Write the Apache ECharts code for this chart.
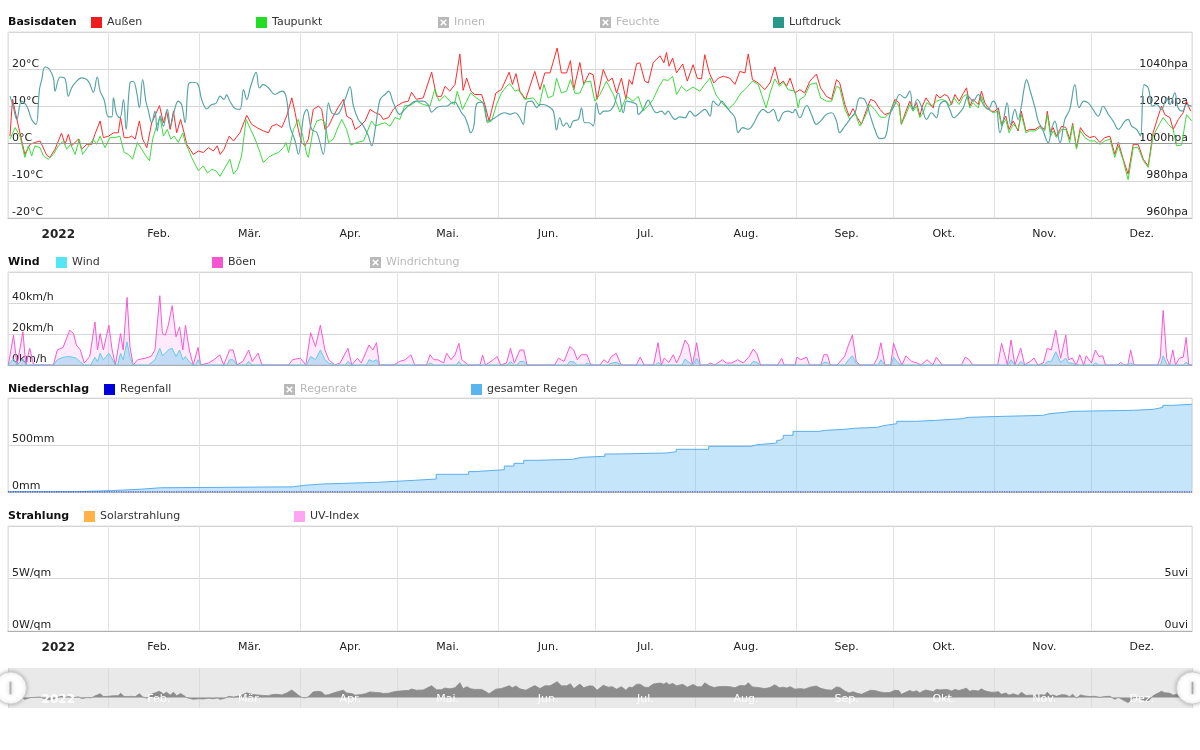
<!DOCTYPE html>
<html><head><meta charset="utf-8">
<script src="https://cdn.jsdelivr.net/npm/echarts@6/dist/echarts.min.js"></script>
<style>html,body{margin:0;padding:0;background:#fff}#c{width:1200px;height:750px}</style>
</head><body><div id="c"></div>
<script>
// ---------- data (day of year 2022, value) ----------
const monthLabels = ['2022','Feb.','Mär.','Apr.','Mai.','Jun.','Jul.','Aug.','Sep.','Okt.','Nov.','Dez.'];

const outsideTemp = [[0.6,2.0],[1.4,11.9],[3.2,4.7],[5.2,-2.9],[6.8,-0.2],[8.3,0.3],[9.9,0.7],[11.9,-3.1],[12.9,-3.7],[14.5,-1.5],[16.5,2.8],[17.6,-0.2],[18.6,2.5],[19.6,-0.6],[21.7,1.2],[22.7,-1.5],[24.3,-0.2],[25.8,-0.2],[26.8,2.5],[28.4,6.1],[29.4,1.6],[31,2.0],[32.5,2.9],[34,2.9],[34.7,7.0],[35.8,1.6],[37.1,1.6],[38.1,2.0],[39.2,1.2],[40.5,6.1],[41.5,1.2],[42.8,-1.1],[44.3,5.6],[46.7,10.2],[47.9,5.6],[48.9,8.7],[50,3.8],[51,8.7],[52,2.9],[53.2,6.5],[54.3,2.9],[55.1,-0.2],[56.1,-1.5],[57.1,-2.9],[58.7,-2.0],[60.2,-2.4],[61.8,-1.1],[63.3,-2.0],[64.5,-0.6],[65.4,-2.9],[66.6,-1.5],[68.2,2.0],[69.5,0.7],[71.5,2.9],[73.6,7.6],[75.1,5.2],[76.7,4.3],[78.7,3.4],[80.3,2.9],[81.3,4.7],[82.8,5.2],[84.4,4.3],[85.9,7.4],[87.5,12.3],[88.5,8.3],[89.5,3.8],[90.5,0.3],[91.6,-0.6],[92.6,1.2],[94.1,9.2],[95.7,10.1],[96.7,9.2],[97.7,3.8],[98.8,4.7],[100.3,7.4],[101.9,9.9],[103.4,11.9],[104.4,7.4],[106,6.5],[107,3.8],[108.5,4.7],[110.1,6.1],[111.6,9.2],[113.2,8.3],[114.7,7.8],[115.7,6.5],[117.3,7.0],[118.8,9.2],[119.8,10.1],
[121.8,11.1],[123.4,11.4],[124.4,13.8],[125.9,11.9],[128,12.3],[130.6,19.2],[132.1,12.7],[133.6,12.7],[134.7,15.4],[136.2,14.1],[137.8,15.9],[139.3,24.1],[140.3,14.3],[141.4,17.6],[142.7,14.1],[143.9,13.2],[146,13.2],[147,10.5],[148.3,6.1],[150.4,13.6],[152.1,14.5],[154.5,19.2],[155.5,15.9],[156.6,18.8],[157.8,14.1],[159.6,11.9],[162.4,19.4],[164,14.5],[165.5,19.0],[167.1,19.0],[169.3,25.7],[170.6,19.0],[172.2,19.0],[173.4,22.3],[174.4,14.5],[176.3,21.8],[177.5,15.9],[179.2,19.0],[180.4,18.5],[181.6,11.9],[183.5,19.9],[185,16.8],[186.3,17.6],[187.6,13.6],[189.1,17.6],[190.5,11.9],[191.5,17.2],[192.4,15.9],[193.8,21.5],[194.8,21.7],[196.3,16.8],[197.4,16.3],[198.9,21.8],[201,23.6],[202.2,21.7],[203,24.5],[203.8,20.8],[204.9,23.0],[206.1,19.0],[208,21.4],[209.4,16.8],[211.2,21.2],[212.5,17.6],[213.8,17.4],[214.8,23.9],[216.2,19.0],[217.6,16.3],[219,17.6],[220.5,18.1],[222.5,17.6],[224.1,15.9],[225.6,19.4],[227.2,19.0],[228.2,24.1],[229.5,17.2],[231.3,16.3],[233.3,14.5],[234.9,16.3],[236.4,20.6],[237.8,15.9],[239,16.8],[240,15.4],[241.1,17.6],[242.6,13.6],
[244.1,14.5],[245.6,13.6],[247.2,16.8],[249.2,18.7],[250.5,15.0],[252.3,12.7],[253.9,11.9],[255.4,17.2],[256.4,16.3],[258,10.5],[259.3,7.4],[260.5,9.4],[261.8,7.0],[263.1,5.2],[264.7,9.2],[265.9,11.9],[267.2,11.4],[268.8,9.2],[270.3,7.8],[271.9,8.3],[273.4,11.9],[274.7,11.0],[275.4,5.2],[276.8,8.7],[278,11.4],[279,9.2],[280.1,11.0],[281.1,7.4],[281.9,10.1],[283,12.3],[284,11.0],[285.2,9.6],[286.2,13.2],[287.3,12.3],[288.8,13.2],[289.8,12.7],[290.9,10.5],[291.9,13.2],[293.2,11.4],[294.5,13.5],[295.5,15.0],[296.5,10.1],[297.5,11.9],[299.1,10.5],[300.1,14.1],[301.1,11.0],[302.2,9.6],[303.2,8.7],[304.2,8.7],[305.3,9.6],[306.3,5.2],[307.6,7.4],[308.6,3.8],[309.9,6.1],[311.4,3.4],[312.4,8.7],[313.8,3.4],[315,3.8],[316.6,3.8],[318.1,4.7],[319.6,3.8],[320.4,8.7],[321.4,2.9],[322.2,4.3],[323.2,2.0],[324.8,4.7],[326.1,4.3],[327.3,1.2],[328.2,5.4],[329.4,-1.1],[330.6,4.3],[332,2.5],[333.5,1.6],[335,2.0],[336.6,0.3],[338.1,1.6],[339.7,2.0],[341.2,-2.9],[342.3,0.3],[343.8,-4.2],[345.3,-8.2],[346.9,-0.2],[348.4,-0.2],[350,-4.2],[351.5,-6.0],[353,2.9],[354.6,7.4],[355.6,10.1],[356.6,7.8],[358.2,7.0],[359.2,3.8],[360.8,6.5],[362.3,8.3],[363.3,11.4],[364.6,8.7]];

const dewPoint = [[0.6,1.2],[2.2,4.3],[3.7,2.0],[5.2,-3.7],[6.3,-0.6],[7.3,-3.3],[8.3,-0.6],[9.9,-1.1],[10.9,-3.3],[12.4,-4.2],[14,-2.9],[15.5,-0.6],[17.1,0.7],[18.1,-1.5],[19.3,-0.2],[20.7,-2.9],[22,1.2],[23,-2.9],[24.5,-1.1],[26.3,1.2],[27.3,-0.2],[28.4,2.0],[29.9,-1.1],[31.4,1.6],[33,1.6],[34.5,2.0],[35.8,-2.4],[37.1,-2.9],[38.4,-4.2],[39.9,0.3],[41.2,-1.5],[42.8,-3.7],[43.6,-4.6],[44.6,1.2],[45.8,4.7],[46.9,7.0],[47.9,2.0],[49.1,3.8],[50.2,1.2],[51.2,2.0],[52.5,0.3],[53.9,2.9],[54.6,0.3],[55.6,-1.5],[56.6,-3.7],[58.7,-7.3],[60.2,-6.0],[61.5,-7.9],[62.8,-6.9],[64.1,-7.3],[65.4,-8.8],[66.6,-6.9],[68.4,-4.2],[69.5,-8.2],[70.7,-6.9],[72,-3.3],[73.4,6.5],[74.8,3.8],[76.2,1.2],[77.7,-2.4],[78.7,-5.1],[80.3,-3.7],[81.8,-2.9],[83.4,-2.4],[84.9,-1.1],[85.7,0.3],[86.5,-2.4],[88,3.8],[89.5,6.5],[90.9,2.0],[92.1,-2.9],[92.6,-3.7],[94.1,3.8],[95.2,6.1],[96.7,6.5],[97.7,5.6],[98.8,0.3],[100.3,1.2],[101.9,4.7],[102.9,6.5],[104.4,3.8],[105.7,-0.4],[107.5,0.3],[109.6,0.7],[110.6,2.9],[112.1,6.1],[113.2,4.7],[114.7,5.2],[116.2,5.6],[117.8,4.7],[119.3,7.0],
[120.8,6.5],[122.3,10.2],[123.9,10.2],[125.9,11.4],[128,10.5],[130.1,10.1],[131.6,14.7],[132.9,11.4],[134.7,12.9],[136.2,11.4],[137.6,10.5],[138.5,14.1],[140.1,9.2],[141.4,11.4],[142.6,13.6],[144.4,12.3],[146.5,11.0],[147.7,5.6],[149.1,6.1],[150.6,10.5],[152.1,13.6],[153.7,15.4],[154.7,16.1],[156.3,14.1],[157.3,14.5],[159.3,11.9],[161.9,12.3],[163.8,10.1],[165.2,15.9],[166.5,12.3],[168.1,12.9],[169.1,17.6],[170.6,13.6],[172.2,14.1],[173.4,17.2],[174.8,13.5],[176.3,13.6],[177.8,16.5],[179.6,16.8],[180.9,11.4],[182.5,13.2],[184.5,16.8],[186.6,13.2],[188.6,8.5],[190.7,12.7],[192.7,11.4],[194.3,12.7],[195.8,8.7],[197.4,10.2],[198.9,11.9],[200.5,15.0],[202,17.2],[203.5,17.0],[204.9,18.1],[206.1,13.2],[207.6,15.4],[209.2,14.1],[211.2,15.2],[213.3,14.1],[214.8,15.9],[216.4,17.6],[218.2,13.2],[220,11.0],[222,9.2],[224.1,11.0],[225.6,13.2],[227.7,15.0],[229.5,16.8],[231.3,15.9],[232.3,13.2],[233.7,9.6],[235.1,14.1],[236.4,17.4],[237.8,15.4],[239,16.5],[240.5,14.5],[242.6,14.1],[243.6,9.6],
[244.1,11.9],[245.6,12.7],[247.2,15.9],[249.2,16.3],[250.5,12.3],[252.3,11.4],[253.9,11.4],[255.4,15.4],[256.4,15.0],[258,9.2],[259.5,6.5],[261.1,8.3],[262.6,4.7],[264.1,7.0],[265.7,10.5],[267.2,9.2],[268.8,7.2],[270.3,7.0],[271.9,8.3],[273.4,11.4],[274.7,10.1],[275.4,5.2],[276.8,7.8],[278,10.5],[279,8.7],[280.1,10.1],[281.1,7.0],[282.1,8.3],[283.2,11.0],[284.7,10.1],[286.2,11.4],[287.8,11.9],[289.3,11.4],[290.3,10.1],[291.6,12.3],[293.2,10.5],[294.5,12.7],[295.5,13.2],[296.5,9.6],[297.5,11.0],[299.1,9.6],[300.1,12.7],[301.1,10.1],[302.2,9.2],[303.7,8.3],[305.3,8.7],[306.3,4.7],[307.6,6.5],[308.6,2.9],[309.9,5.2],[311.4,3.8],[312.4,7.8],[313.8,2.9],[315,3.4],[316.6,3.4],[318.1,4.3],[319.6,3.4],[320.4,7.8],[321.4,2.0],[322.2,3.4],[323.2,1.6],[324.8,3.8],[326.1,3.8],[327.3,0.3],[328.2,4.9],[329.4,-1.5],[330.6,3.4],[332,1.6],[333.5,0.7],[335,0.7],[336.6,-0.2],[338.1,0.7],[339.7,1.2],[341.2,-3.7],[342.3,-0.6],[343.8,-4.6],[345.3,-9.7],[346.9,-1.1],[348.4,-1.1],[350,-4.6],[351.5,-6.4],[353,2.0],[354.6,4.7],[356.1,7.0],[357.7,5.2],[359.2,3.8],[360.2,-0.6],[361.8,-0.4],[363.3,7.8],[364.9,6.1]];

const pressure = [[0.6,1025.5],[1.6,1020.1],[2.7,1013.0],[4.2,1022.8],[5.8,1020.1],[7.3,1013.0],[8.6,1010.3],[9.7,1029.1],[10.4,1034.4],[11.4,1041.2],[12.7,1040.1],[14,1035.3],[14.5,1028.2],[15.5,1034.4],[16.2,1035.8],[17.6,1034.8],[18.6,1025.5],[19.6,1029.9],[20.7,1032.6],[22.7,1035.3],[24.8,1033.5],[26.3,1027.6],[27.5,1035.8],[28.4,1028.2],[29.6,1023.7],[31,1014.4],[32,1014.4],[32.5,1024.6],[33.5,1015.7],[34.5,1013.9],[35.6,1023.7],[36.4,1007.7],[37.6,1032.6],[38.6,1033.5],[39.7,1027.3],[40.5,1019.3],[41.5,1034.4],[42.5,1022.8],[43.3,1017.5],[44.3,1011.2],[45.3,1017.5],[46,1006.8],[46.9,1014.8],[47.9,1009.4],[49.1,1018.4],[50.1,1009.4],[51,1015.7],[52.5,1022.8],[53.5,1021.0],[54.6,1011.2],[55.6,1031.7],[56.6,1033.0],[58.4,1032.3],[59.7,1023.7],[61.3,1018.7],[62.8,1021.0],[64.1,1021.6],[65.4,1025.5],[66.6,1023.7],[67.4,1026.2],[68.4,1022.8],[70,1018.9],[71.5,1018.4],[72.6,1029.1],[73.6,1023.7],[74.8,1030.8],[76.5,1038.3],[77.5,1029.9],[78.7,1031.7],[80.3,1029.9],[82.3,1026.4],[84.4,1028.2],[85.7,1025.5],[86.9,1009.4],[88.5,1001.4],[89.5,994.3],[91.1,1014.8],[92.1,1018.4],[93.6,1007.7],[95.2,1005.9],[97.2,994.3],[98.8,1021.9],[99.8,1016.6],[101.3,1015.7],[103.9,1023.7],[105.4,1030.5],[106.5,1020.1],[108,1013.0],[109.6,1009.4],[111.1,1004.1],[112.1,998.8],[113.2,1007.7],[114.7,1023.7],[116.2,1026.4],[117.3,1028.2],[118.8,1021.9],
[120.8,1015.7],[122.3,1018.4],[123.9,1021.0],[125.9,1022.8],[128,1022.8],[129.5,1021.0],[130.6,1016.9],[132.1,1019.3],[133.6,1020.1],[135.2,1020.1],[136.7,1021.9],[137.8,1022.3],[138.8,1019.8],[139.8,1016.6],[140.8,1014.4],[141.9,1009.4],[142.6,1005.9],[143.6,1009.4],[144.4,1021.0],[146,1022.3],[147,1019.3],[148,1012.1],[150.1,1013.9],[151.6,1015.7],[153.2,1016.6],[154.7,1015.7],[156.3,1016.6],[157.8,1013.9],[158.8,1010.3],[159.9,1021.9],[161.4,1022.8],[163,1019.3],[164,1021.0],[165,1021.0],[166.5,1020.1],[168.1,1017.5],[169.1,1007.3],[170.1,1013.9],[171.2,1009.4],[172.2,1011.2],[173.2,1008.6],[174.2,1012.1],[175.8,1013.0],[176.8,1019.3],[177.8,1011.2],[179.2,1011.2],[180.4,1009.4],[181.4,1021.9],[182.5,1015.7],[183.7,1017.5],[185,1017.5],[186.6,1019.8],[188.1,1027.3],[189.7,1016.6],[190.7,1022.8],[192.2,1022.3],[193.8,1021.0],[194.3,1015.7],[195.8,1018.4],[197.4,1023.4],[198.4,1020.1],[199.9,1016.6],[201.5,1017.5],[202.5,1015.7],[203.5,1017.5],[204.6,1014.8],[205.6,1013.0],[207.1,1014.4],[208.7,1013.9],[210.2,1017.5],[211.8,1014.8],[213.3,1016.6],[214.8,1018.4],[216.4,1014.8],[217.4,1022.8],[219,1020.5],[220,1022.8],[221,1021.0],[222.5,1017.5],[224.1,1013.9],[225.1,1005.9],[226.5,1008.6],[228.2,1007.7],[229.7,1010.3],[231.3,1015.7],[232.8,1018.4],[234.4,1016.6],[235.9,1018.4],[237.5,1012.1],[239,1016.6],[240.5,1017.5],[241.9,1016.6],[242.6,1018.4],
[244.1,1013.9],[246.2,1020.5],[247.7,1015.7],[249.2,1010.3],[250.5,1012.1],[252.3,1015.7],[253.9,1016.6],[255.4,1012.1],[256.4,1005.9],[258,1009.4],[259.5,1013.0],[261.1,1016.6],[262.6,1024.6],[264.1,1023.7],[265.7,1015.7],[267.2,1007.7],[268.8,1002.7],[270.3,1003.2],[271.9,1015.7],[273.4,1021.0],[274.9,1026.4],[276.5,1024.6],[278,1028.2],[279,1018.4],[280.3,1023.7],[281.6,1020.1],[283.2,1013.0],[284.7,1016.6],[286.2,1013.9],[287.3,1021.0],[288.8,1022.8],[290.3,1018.4],[291.6,1013.9],[292.9,1015.7],[294.5,1019.3],[296,1025.5],[297.5,1022.8],[299.1,1026.4],[300.6,1021.0],[302.2,1018.4],[303.7,1022.8],[304.7,1020.1],[305.8,1005.9],[307,1013.9],[308,1021.9],[309.1,1010.3],[310.4,1018.4],[311.4,1013.0],[312.4,1020.1],[313.2,1029.1],[314,1034.4],[315,1029.1],[316.6,1019.3],[317.6,1012.1],[318.9,1007.7],[320.7,1000.5],[321.7,1007.7],[322.7,1012.1],[324.3,1000.5],[325.8,1013.0],[327.3,1018.4],[328.9,1031.7],[330.2,1019.3],[331.7,1022.8],[333,1021.9],[334.5,1018.4],[336.1,1014.8],[337.6,1020.1],[339.2,1015.7],[340.7,1012.1],[342.3,1007.7],[344.3,1012.1],[345.3,1013.0],[346.4,1009.4],[347.9,1007.7],[349.1,1004.1],[350.2,1031.7],[351.5,1029.9],[352.8,1020.1],[354.1,1021.0],[355.6,1018.4],[357.2,1024.6],[358.2,1021.0],[359.7,1027.3],[360.7,1019.3],[362.1,1017.5],[363.3,1021.0],[364.9,1020.1]];

const windSpeed = [[0,0],[1.7,4],[2.8,0],[4.6,4],[5.5,0],[14,0],[15.2,3.4],[17,5],[19,5.5],[21.1,4.4],[22.3,2],[23.5,0],[25.5,0],[26.8,5],[27.6,2],[28.4,7.6],[29.4,3.4],[31.1,7.6],[32.1,4],[33.1,0],[33.8,0],[34.7,7.6],[35.5,3.4],[36.7,15],[37.6,5],[38.6,0],[43.3,0],[44.1,1.3],[45.3,3.4],[46.8,10.8],[47.6,6],[48.5,7.6],[49.4,9.7],[50.6,10.8],[51.8,5.5],[52.9,9.7],[53.9,3.4],[54.7,5.5],[55.9,2],[57.1,0],[57.8,0],[58.6,3.4],[59.4,0],[67.5,0],[68.3,3.4],[69.4,3.4],[70.6,0],[73.3,0],[74.2,2.3],[75.3,0],[92,0],[93.3,5.5],[94.8,3.4],[96.3,9.7],[97.7,3.4],[98.9,1.3],[100.7,0],[104,0],[104.8,2.3],[106,0],[110.5,0],[111.3,3.4],[112.5,2.3],[113.6,3.4],[114.5,0],[129.3,0],[130.1,1.3],[131.3,0],[138.2,0],[139,2.3],[139.9,0],[154,0],[154.9,2.3],[156.1,0],[157,0],[157.8,2.3],[159,2.3],[160,0],[172.4,0],[173.2,2.3],[174.4,2],[175.5,0],[177.7,0],[178.5,1.3],[179.7,0],[185,0],[186,1.3],[187.5,1.7],[189,0],[199.6,0],[200.4,1.7],[201.4,0],[207.8,0],[208.7,3.8],[209.8,2],[211,0],[211.5,0],[212.3,4.2],[213.4,0],[228.8,0],[229.7,2.3],[230.8,1.7],[232,0],[250.7,0],[251.5,1.7],[252.6,1.7],[253.5,0],[258,0],[259.1,3.4],[260.3,5.9],[261.5,1],[262.7,0],[268.2,0],[269.1,3.4],[270.3,0],[272.2,0],[273,5.1],[274.4,1.3],[275.6,0],[308.3,0],[309.2,3.4],[310.4,0],[311.4,0],[312.2,2.3],[313.4,0],[319.6,0],[320.4,2.3],[321.6,2.3],[323,8.5],[324.5,1.7],[326.1,4.4],[326.9,1.3],[328.1,1.3],[329.3,0],[334.4,0],[335.2,1.3],[336.3,0],[345.3,0],[346.1,1.3],[347.1,0],[355.3,0],[356.1,5.9],[357.2,0.5],[358.1,0],[362.4,0],[363.2,1.9],[364,0],[365,0]];

const windGust = [[0.1,0],[1.7,19.3],[2.8,0],[4.6,21.4],[5.5,0],[6.7,10.8],[7.9,0],[14,0],[15.2,9.7],[17,11.4],[19,22.5],[20.2,20.3],[21.1,12.9],[22.3,9.7],[23.5,1.3],[25.2,5.5],[26.8,27.8],[27.6,9.7],[28.4,20.3],[29.4,9.7],[31.1,25.6],[32.1,9.7],[33.1,0],[34.7,20.3],[35.5,9.7],[36.7,43.6],[37.6,11.9],[38.6,0],[40,3.4],[42.3,4.4],[44.1,5.5],[45.3,9.7],[46.8,44.7],[47.6,20.3],[48.5,19.3],[49.4,25.6],[50.6,38.3],[51.8,18.2],[52.9,24.6],[53.9,9.7],[54.7,25.6],[55.9,9.7],[57.1,0],[58.6,11.4],[59.4,0],[61.8,1.3],[63.5,3.4],[65.3,6.6],[66.5,0],[68.3,9.7],[69.4,9.7],[70.6,0],[72.4,2.3],[74.2,9.7],[75.3,2.3],[77.1,7.6],[78.3,0],[86.5,0],[87.7,3.4],[90.1,4.4],[91.8,0],[93.3,20.8],[94.8,11.9],[96.3,25.6],[97.7,9.7],[98.9,3.4],[100.7,0],[102.4,1.3],[104.8,10.8],[106,0],[107.7,4.4],[108.9,1.3],[111.3,12.9],[112.5,9.7],[113.6,14.4],[114.5,0],[118.9,0],[120.7,2.3],[122.5,3.4],[124.2,6.6],[125.4,0],[129,0],[130.1,6.6],[131.3,3.4],[132.5,3.4],[134.3,1.3],[135.2,7.6],[136.6,3.4],[137.8,6.6],[139,14.0],[139.9,3.4],[141.9,0],[145.5,0],[146.3,6.4],[147.2,0],[149.6,3.4],[150.8,5.5],[151.9,0],[153.7,1.3],[154.9,10.8],[156.1,1.3],[157.8,9.7],[159,9.7],[160,0],[168.5,0],[169.7,4.4],[171.4,2.3],[173.2,11.9],[174.4,9.7],[175.5,3.4],[176.7,6.6],[178.5,6.6],[179.7,0],
[182.5,0],[183.7,3.4],[184.9,1.3],[186,5.5],[187.5,7.6],[189,0],[193.7,0],[194.9,5.1],[196.1,0],[199,0],[200.4,14.4],[201.4,0],[202.3,4.4],[203.7,1.7],[205.1,6.6],[206.1,1.3],[207.3,6.6],[208.7,16.1],[209.8,12.9],[211,0],[212.3,14.4],[213.4,0],[215.5,0],[216.5,1.3],[217.9,0],[220.2,3.4],[221.4,1.3],[223.2,1.3],[224.9,3.4],[226.7,1.3],[228.5,5.5],[229.7,10.2],[230.8,7.6],[232,0],[237.3,0],[238.5,4.4],[239.3,0],[242.6,0],[243.2,5.1],[244.4,3.4],[246.2,5.1],[247.1,0],[250.6,0],[251.5,6.6],[252.6,6.6],[253.5,0],[255.6,0],[257.9,5.5],[259.1,12.9],[260.3,19.3],[261.5,2.3],[262.7,0],[266.8,0],[268,4.4],[269.1,14.4],[270.3,0],[272.1,0],[273,14.0],[274.4,5.5],[275.6,0],[276.8,5.9],[278.6,2.3],[280.3,1.3],[281.5,0],[283.3,3.4],[285.1,0],[286.2,5.1],[288,0],[293.9,0],[295.1,5.1],[296.3,3.4],[297.4,0],[305.1,0],[306.3,14.0],[308.1,0],[309.2,16.1],[310.4,0],[312.2,10.8],[313.4,0],[315.1,2.3],[316.3,4.4],[317.5,0],[319.2,1.3],[320.4,10.8],[321.6,9.7],[323,22.5],[324.5,4.4],[326.1,19.3],[326.9,3.4],[328.1,4.4],[329.3,0],[330.4,6.6],[331.6,0],[332.4,5.9],[334,1.3],[335.2,9.7],[336.3,5.5],[337.5,5.9],[338.3,0],[342.2,0],[343,1.7],[344,0],[345.2,0],[346.1,9.7],[347.1,0],[354.4,0],[355.2,4.4],[356.1,35.2],[357.2,4.4],[358.1,0],[359.1,9.7],[359.9,0],[361.1,4.4],[362.3,5.1],[363.2,17.8],[364,0],[365,0]];

const rainTotal = [[0,3],[21,15],[32,30],[41,45],[47,55],[88,70],[91,85],[97,103],[114,120],[123,138],[132,188],[142,217],[144,237],[153,276],[156,305],[159,337],[163,348],[174,369],[177,380],[184,404],[187,415],[203,429],[206,454],[216,486],[229,503],[231,521],[237,550],[238,571],[239,603],[242,645],[250,656],[252,667],[258,678],[261,688],[268,706],[270,727],[274,752],[280,762],[286,780],[294,794],[296,805],[307,815],[319,833],[321,848],[326,858],[328,869],[347,879],[353,900],[356,922],[359,933],[365,933]];
const rainFall = [[0,0],[365,0]];

// ---------- helpers ----------
const FONT = 'DejaVu Sans';
const DAY = 86400000;
const T0 = Date.UTC(2022, 0, 1), T1 = Date.UTC(2023, 0, 1);
const SHIFT = 15.5 * DAY;
const toTime = arr => arr.map(p => [T0 + p[0] * DAY, p[1]]);

function monthFmt(v) {
  const d = new Date(v);
  if (d.getUTCFullYear() !== 2022 || d.getUTCDate() !== 1 || d.getUTCHours() !== 0) return '';
  const m = d.getUTCMonth();
  return m === 0 ? '{b|' + monthLabels[0] + '}' : monthLabels[m];
}
function mainX(gridIndex, lineColor, z) {
  return { type: 'time', gridIndex, min: T0, max: T1, splitNumber: 12, z: z || 0,
    axisLine: { show: true, onZero: false, lineStyle: { color: lineColor } },
    axisTick: { show: false }, axisLabel: { show: false },
    splitLine: { show: true, lineStyle: { color: '#e2e2e2', width: 1 } } };
}
function labelX(gridIndex, color, margin, z) {
  return { type: 'time', gridIndex, position: 'bottom', min: T0 - SHIFT, max: T1 - SHIFT, splitNumber: 12, z: z || 0,
    axisLine: { show: false }, axisTick: { show: false }, splitLine: { show: false },
    axisLabel: { show: true, color, fontSize: 11, fontFamily: FONT, margin, formatter: monthFmt, hideOverlap: false,
      rich: { b: { fontWeight: 'bold', fontSize: 12, color, fontFamily: FONT } } } };
}
function yAx(gridIndex, min, max, interval, unit, position, split) {
  return { type: 'value', gridIndex, min, max, interval, position,
    axisLine: { show: false }, axisTick: { show: false },
    splitLine: { show: split, lineStyle: { color: '#d6d6d6' } },
    axisLabel: { inside: true, verticalAlign: 'bottom', margin: 4, formatter: v => v + unit,
      color: '#222', fontSize: 11, fontFamily: FONT, showMaxLabel: false } };
}
const XICON = 'path://M0,0H10V10H0Z M4,5L2,7L3,8L5,6L7,8L8,7L6,5L8,3L7,2L5,4L3,2L2,3Z';
function lg(name, x, y, inactive) {
  const o = { left: x, top: y - 4, padding: 0, itemWidth: 11, itemHeight: 11,
    data: [{ name, icon: inactive ? XICON : 'rect' }],
    textStyle: { fontSize: 11, color: '#333', fontFamily: FONT },
    inactiveColor: '#b8b8b8', itemStyle: { borderWidth: 0 } };
  if (inactive) { o.selected = {}; o.selected[name] = false; }
  return o;
}
function ttl(text, y) {
  return { text, left: 8, top: y - 4, padding: 0,
    textStyle: { fontSize: 11, fontWeight: 'bold', color: '#111', fontFamily: FONT } };
}
const gridBase = { left: 8, right: 8, show: true, borderColor: '#dcdcdc', borderWidth: 1, containLabel: false, outerBoundsMode: 'none' };

const option = {
  animation: false,
  useUTC: true,
  backgroundColor: '#fff',
  textStyle: { fontFamily: FONT },
  title: [ttl('Basisdaten', 21), ttl('Wind', 261), ttl('Niederschlag', 388), ttl('Strahlung', 515)],
  legend: [
    lg('Außen', 91, 21), lg('Taupunkt', 256, 21), lg('Innen', 438, 21, true), lg('Feuchte', 600, 21, true), lg('Luftdruck', 773, 21),
    lg('Wind', 56, 261), lg('Böen', 212, 261), lg('Windrichtung', 370, 261, true),
    lg('Regenfall', 104, 388), lg('Regenrate', 284, 388, true), lg('gesamter Regen', 471, 388),
    lg('Solarstrahlung', 84, 515), lg('UV-Index', 294, 515)
  ],
  grid: [
    Object.assign({ top: 32, height: 186 }, gridBase),
    Object.assign({ top: 272, height: 93 }, gridBase),
    Object.assign({ top: 398, height: 94 }, gridBase),
    Object.assign({ top: 526, height: 105 }, gridBase),
    { left: 8, right: 8, top: 668, height: 40, show: true, backgroundColor: '#e9e9e9', borderWidth: 0, outerBoundsMode: 'none' },
    { left: 8, right: 8, top: 668, height: 22, show: false, outerBoundsMode: 'none' }
  ],
  xAxis: [
    mainX(0, '#bdbdbd'), mainX(1, '#aaaaaa'), mainX(2, '#bdbdbd'), mainX(3, '#b0b0b0'),
    labelX(0, '#222', 11), labelX(3, '#222', 11),
    Object.assign(mainX(4, 'transparent'), { splitLine: { show: true, lineStyle: { color: '#dcdcdc' } } }),
    labelX(5, '#ffffff', 4, 20)
  ],
  yAxis: [
    yAx(0, -20, 30, 10, '°C', 'left', true),
    yAx(0, 960, 1060, 20, 'hpa', 'right', false),
    yAx(1, 0, 60, 20, 'km/h', 'left', true),
    yAx(2, 0, 1000, 500, 'mm', 'left', true),
    yAx(3, 0, 10, 5, 'W/qm', 'left', true),
    yAx(3, 0, 10, 5, 'uvi', 'right', false),
    { type: 'value', gridIndex: 4, show: false, min: -17, max: 48 },
    { type: 'value', gridIndex: 5, show: false, min: 0, max: 1 }
  ],
  dataZoom: [{
    type: 'slider', xAxisIndex: [0, 1, 2, 3], left: 8, right: 8, top: 668, height: 40,
    start: 0, end: 100, filterMode: 'none', z: 10,
    showDataShadow: false,
    backgroundColor: 'rgba(0,0,0,0)', borderColor: 'transparent', fillerColor: 'rgba(0,0,0,0)',
    showDetail: false, brushSelect: false, moveHandleSize: 0,
    handleIcon: 'path://M16,0A16,16,0,1,1,16,32A16,16,0,1,1,16,0Z M15,10L15,22L17,22L17,10Z',
    handleSize: 32,
    handleStyle: { color: '#ffffff', borderColor: '#cfcfcf', borderWidth: 1, shadowBlur: 4, shadowColor: 'rgba(0,0,0,0.25)' },
    moveHandleStyle: { opacity: 0 }
  }],
  series: [
    { name: 'Außen', type: 'line', xAxisIndex: 0, yAxisIndex: 0, data: toTime(outsideTemp), showSymbol: false,
      color: '#ee1c1c', lineStyle: { color: '#ff2b2b', width: 1 }, z: 3,
      markLine: { silent: true, symbol: 'none', label: { show: false }, animation: false,
        lineStyle: { color: '#9a9a9a', type: 'solid', width: 1 }, data: [{ yAxis: 0 }] } },
    { name: 'Taupunkt', type: 'line', xAxisIndex: 0, yAxisIndex: 0, data: toTime(dewPoint), showSymbol: false,
      color: '#22dd22', lineStyle: { color: '#3cdc3c', width: 1 }, z: 3 },
    { name: 'Innen', type: 'line', xAxisIndex: 0, yAxisIndex: 0, data: [], color: '#999' },
    { name: 'Feuchte', type: 'line', xAxisIndex: 0, yAxisIndex: 0, data: [], color: '#999' },
    { name: 'Luftdruck', type: 'line', xAxisIndex: 0, yAxisIndex: 1, data: toTime(pressure), showSymbol: false,
      smooth: 0.4, color: '#289888', lineStyle: { color: '#55a3a3', width: 1.15 }, z: 3 },
    { name: 'Böen', type: 'line', xAxisIndex: 1, yAxisIndex: 2, data: toTime(windGust), showSymbol: false,
      color: '#f655d2', lineStyle: { color: '#f45ad2', width: 1 }, areaStyle: { color: '#f655d2', opacity: 0.12 }, z: 2 },
    { name: 'Wind', type: 'line', xAxisIndex: 1, yAxisIndex: 2, data: toTime(windSpeed), showSymbol: false,
      color: '#55e6f6', lineStyle: { color: '#62cde8', width: 1 }, areaStyle: { color: '#6cc6ea', opacity: 0.4 }, z: 3 },
    { name: 'Windrichtung', type: 'line', xAxisIndex: 1, yAxisIndex: 2, data: [], color: '#999' },
    { name: 'gesamter Regen', type: 'line', step: 'end', xAxisIndex: 2, yAxisIndex: 3, data: toTime(rainTotal), showSymbol: false,
      color: '#5ab4f0', lineStyle: { color: '#5aaeec', width: 1 }, areaStyle: { color: '#5ab4f0', opacity: 0.35 }, z: 2 },
    { name: 'Regenfall', type: 'line', xAxisIndex: 2, yAxisIndex: 3, data: toTime(rainFall), showSymbol: false,
      color: '#0000dd', lineStyle: { color: '#1010cc', width: 1.2, type: 'dotted' }, z: 4 },
    { name: 'Regenrate', type: 'line', xAxisIndex: 2, yAxisIndex: 3, data: [], color: '#999' },
    { name: 'Solarstrahlung', type: 'line', xAxisIndex: 3, yAxisIndex: 4, data: [], color: '#ffb347' },
    { name: 'UV-Index', type: 'line', xAxisIndex: 3, yAxisIndex: 5, data: [], color: '#ffa3f3' },
    { name: 'navigator', type: 'line', xAxisIndex: 6, yAxisIndex: 6, data: toTime(outsideTemp), showSymbol: false,
      silent: true, color: '#8c8c8c', lineStyle: { color: '#8c8c8c', width: 0.8 }, areaStyle: { color: '#8c8c8c', opacity: 1 }, z: 2 }
  ]
};

const chart = echarts.init(document.getElementById('c'), null, { renderer: 'canvas' });
chart.setOption(option);
</script>
</body></html>
